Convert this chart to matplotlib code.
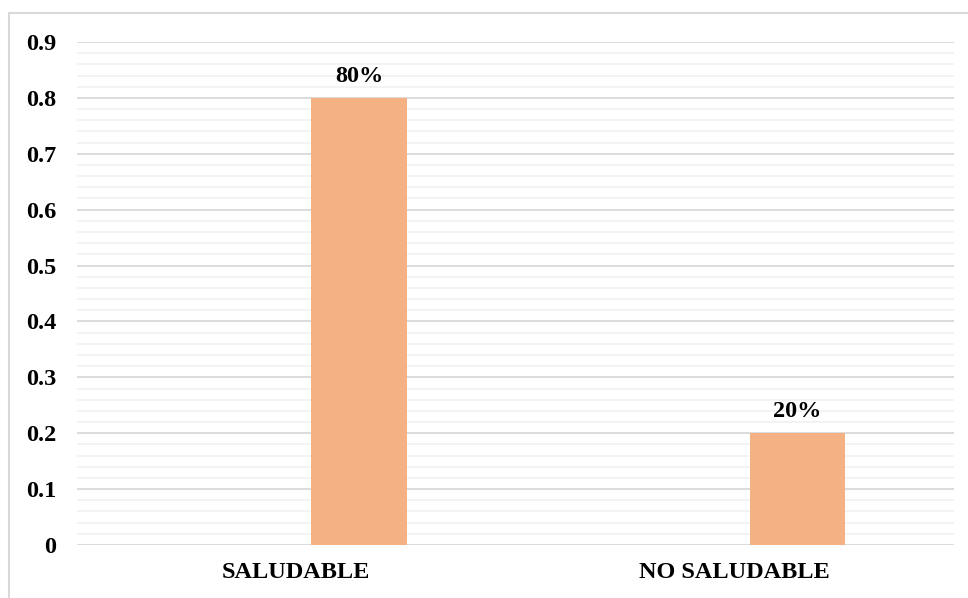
import matplotlib.pyplot as plt
from matplotlib.patches import Rectangle
from matplotlib.ticker import MultipleLocator

categories = ["SALUDABLE", "NO SALUDABLE"]
values = [0.8, 0.2]
labels = ["80%", "20%"]
yticks = [0, 0.1, 0.2, 0.3, 0.4, 0.5, 0.6, 0.7, 0.8, 0.9]

plt.rcParams['font.family'] = ['Liberation Serif', 'DejaVu Serif']
plt.rcParams['font.weight'] = 'bold'

fig = plt.figure(figsize=(9.68, 5.98), dpi=100)
ax = fig.add_axes([77 / 968, 1 - 545 / 598, (954 - 77) / 968, (545 - 42) / 598])

# outer chart border
fig.patches.append(Rectangle((9 / 968, -0.01), 1.0, 1 - 13 / 598 + 0.01,
                             transform=fig.transFigure, fill=False,
                             edgecolor='#d9d9d9', linewidth=1.5))

x = list(range(len(categories)))
offset = 0.143
bars = ax.bar([i + offset for i in x], values, width=0.218, color='#F4B183', zorder=3)
for b, lab in zip(bars, labels):
    ax.text(b.get_x() + b.get_width() / 2, b.get_height() + 0.02, lab,
            ha='center', va='bottom', fontsize=17.5, fontweight='bold')

ax.set_xlim(-0.5, 1.5)
ax.set_ylim(0, 0.9)
ax.set_yticks(yticks)
ax.set_yticklabels([f"{t:g}" for t in yticks])
ax.yaxis.set_minor_locator(MultipleLocator(0.02))
ax.grid(axis='y', which='major', color='#d9d9d9', linewidth=1.3, zorder=0)
ax.grid(axis='y', which='minor', color='#f2f2f2', linewidth=1.3, zorder=0)
ax.set_xticks(x)
ax.set_xticklabels(categories)
ax.tick_params(axis='both', which='both', length=0, labelsize=17.5)
ax.tick_params(axis='y', pad=15)
ax.tick_params(axis='x', pad=12)
for s in ax.spines.values():
    s.set_visible(False)

fig.savefig('out.png', dpi=100)
